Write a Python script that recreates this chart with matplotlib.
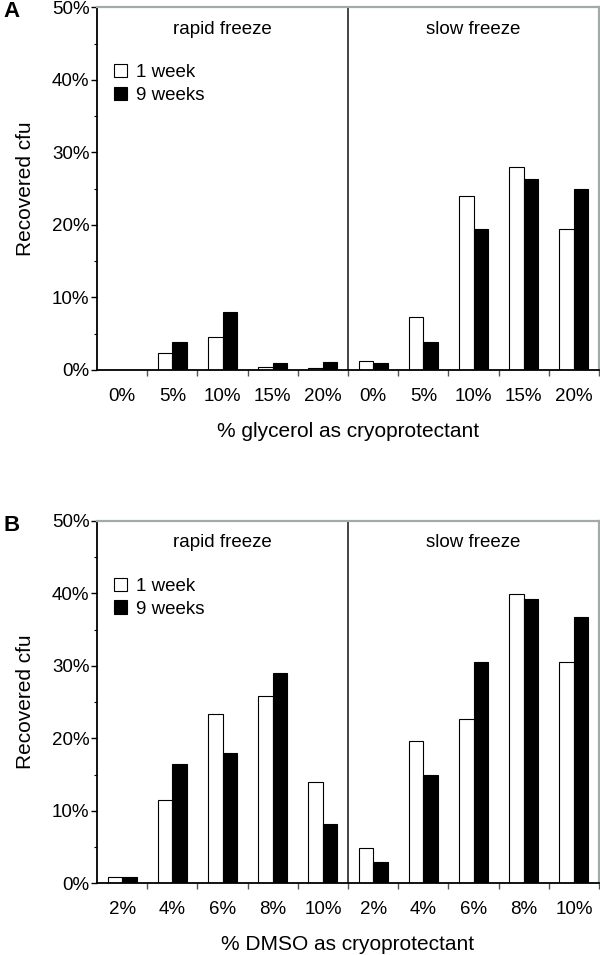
import matplotlib
matplotlib.use('Agg')
import matplotlib.pyplot as plt
from matplotlib.patches import Patch
import numpy as np

plt.rcParams['font.family'] = ['Liberation Sans', 'DejaVu Sans']

# values in % recovered cfu
glyc_labels = ['0%', '5%', '10%', '15%', '20%']
glyc_rapid_1wk = [0, 2.3, 4.6, 0.45, 0.3]
glyc_rapid_9wk = [0, 3.9, 8.0, 0.9, 1.15]
glyc_slow_1wk = [1.3, 7.3, 24.0, 28.0, 19.4]
glyc_slow_9wk = [0.9, 3.9, 19.4, 26.4, 24.9]

dmso_labels = ['2%', '4%', '6%', '8%', '10%']
dmso_rapid_1wk = [0.9, 11.5, 23.4, 25.8, 14.0]
dmso_rapid_9wk = [0.9, 16.4, 18.0, 29.0, 8.2]
dmso_slow_1wk = [4.9, 19.6, 22.7, 39.9, 30.5]
dmso_slow_9wk = [2.9, 14.9, 30.6, 39.2, 36.8]

series_names = ['1 week', '9 weeks']
panel_titles = ['rapid freeze', 'slow freeze']

gray = '#a3aba9'
w = 0.29


def draw_panel(ax, labels, r1, r9, s1, s9, xlabel, letter):
    x = np.arange(10)
    wk1 = list(r1) + list(s1)
    wk9 = list(r9) + list(s9)
    ax.bar(x - w / 2, wk1, w, color='white', edgecolor='black', linewidth=0.8)
    ax.bar(x + w / 2, wk9, w, color='black', edgecolor='black', linewidth=0.8)

    ax.set_xlim(-0.5, 9.5)
    ax.set_ylim(0, 50)
    ax.axvline(4.5, color='#111111', lw=1.1)

    ax.set_yticks(np.arange(0, 51, 10))
    ax.set_yticklabels(['%d%%' % v for v in range(0, 51, 10)])
    ax.set_yticks(np.arange(5, 50, 10), minor=True)
    ax.tick_params(axis='y', which='major', length=4, width=1, pad=1.5, labelsize=13.5)
    ax.tick_params(axis='y', which='minor', length=2.5, width=0.8)

    ax.set_xticks(np.arange(0.5, 9.6, 1))
    ax.set_xticklabels([])
    ax.set_xticks(x, minor=True)
    ax.set_xticklabels(labels + labels, minor=True)
    ax.tick_params(axis='x', which='major', length=4, width=1, color='#555555')
    ax.tick_params(axis='x', which='minor', length=0, pad=13, labelsize=13.5)

    for s in ['left', 'bottom']:
        ax.spines[s].set_color('black')
        ax.spines[s].set_linewidth(1.3)
    for s in ['top', 'right']:
        ax.spines[s].set_color(gray)
        ax.spines[s].set_linewidth(1.6)

    ax.text(2, 47.0, panel_titles[0], ha='center', va='center', fontsize=13.5)
    ax.text(7, 47.0, panel_titles[1], ha='center', va='center', fontsize=13.5)

    handles = [Patch(facecolor='white', edgecolor='black', linewidth=0.8),
               Patch(facecolor='black', edgecolor='black', linewidth=0.8)]
    ax.legend(handles, series_names, loc='upper left', bbox_to_anchor=(0.0, 0.89),
              frameon=False, fontsize=13.5, handlelength=0.7, handleheight=0.7,
              handletextpad=0.5, labelspacing=0.3)

    ax.set_ylabel('Recovered cfu', fontsize=15, labelpad=12)
    ax.set_xlabel(xlabel, fontsize=15, labelpad=12)
    ax.text(-0.17, 0.988, letter, transform=ax.transAxes, fontsize=16,
            fontweight='bold', ha='center', va='center')


fig = plt.figure(figsize=(6, 9.55), dpi=100)
axA = fig.add_axes([0.1617, 0.6126, 0.8367, 0.3796])
axB = fig.add_axes([0.1617, 0.0751, 0.8367, 0.3794])

draw_panel(axA, glyc_labels, glyc_rapid_1wk, glyc_rapid_9wk, glyc_slow_1wk, glyc_slow_9wk,
           '% glycerol as cryoprotectant', 'A')
draw_panel(axB, dmso_labels, dmso_rapid_1wk, dmso_rapid_9wk, dmso_slow_1wk, dmso_slow_9wk,
           '% DMSO as cryoprotectant', 'B')

fig.savefig('out.png', dpi=100)
